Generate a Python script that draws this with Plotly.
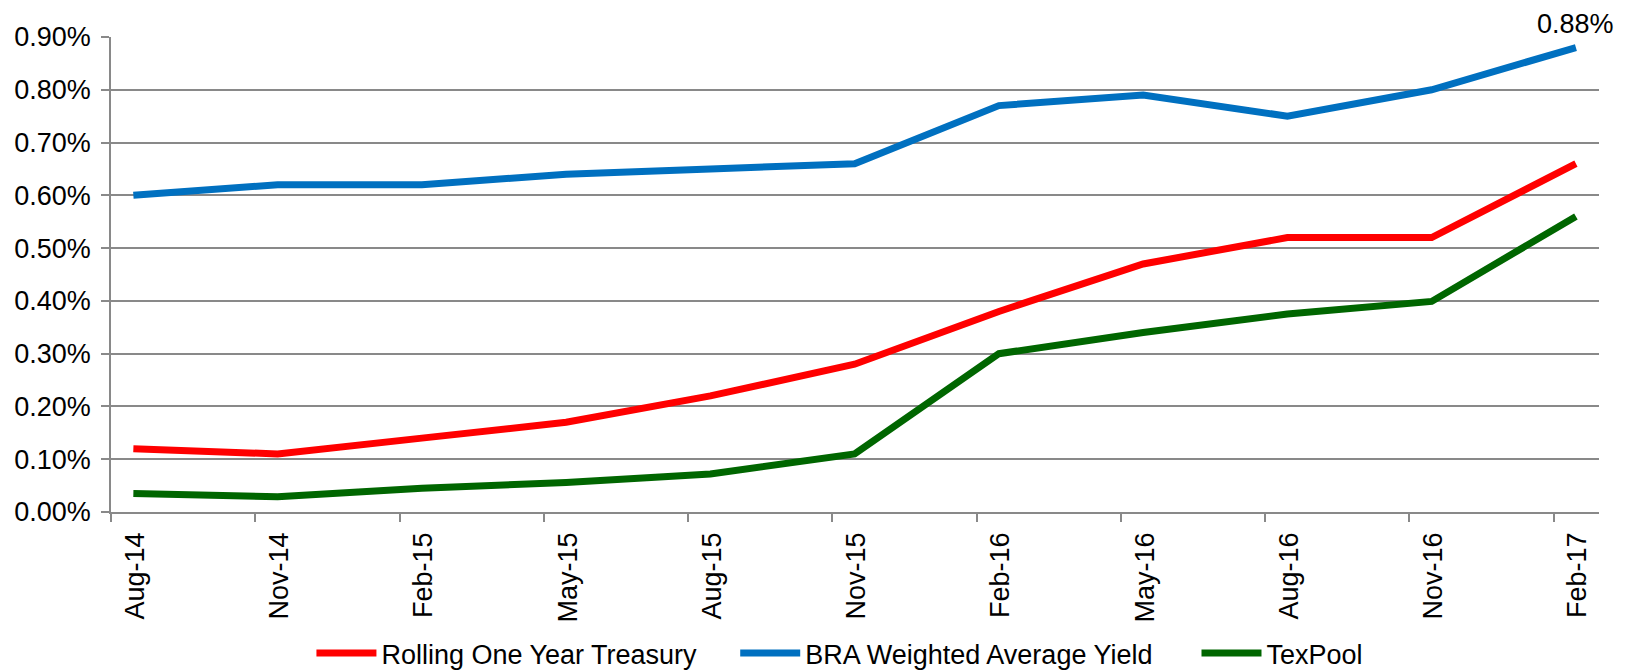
import plotly.graph_objects as go

labels = ["Aug-14", "Nov-14", "Feb-15", "May-15", "Aug-15", "Nov-15",
          "Feb-16", "May-16", "Aug-16", "Nov-16", "Feb-17"]
rolling_treasury = [0.12, 0.11, 0.14, 0.17, 0.22, 0.28, 0.38, 0.47, 0.52, 0.52, 0.66]
bra_yield = [0.60, 0.62, 0.62, 0.64, 0.65, 0.66, 0.77, 0.79, 0.75, 0.80, 0.88]
texpool = [0.035, 0.029, 0.045, 0.056, 0.072, 0.11, 0.30, 0.34, 0.375, 0.399, 0.56]
y_ticks = [0.0, 0.1, 0.2, 0.3, 0.4, 0.5, 0.6, 0.7, 0.8, 0.9]

idx = list(range(len(labels)))
tick_off = 0.155
FONT = "Liberation Sans, Arial, sans-serif"
FS = 27
GRID = "#898989"

fig = go.Figure()
series = [
    ("Rolling One Year Treasury", rolling_treasury, "#FF0000", "legend", 0.1347),
    ("BRA Weighted Average Yield", bra_yield, "#0070C0", "legend2", 0.4195),
    ("TexPool", texpool, "#006600", "legend3", 0.7295),
]
legend_cfg = {}
for name, vals, col, lg, lx in series:
    fig.add_trace(go.Scatter(x=idx, y=vals, name=name, mode="lines", legend=lg,
                             line=dict(color=col, width=7), cliponaxis=False))
    legend_cfg[lg] = dict(orientation="h", x=lx, xanchor="left", y=-0.298, yanchor="middle",
                          font=dict(family=FONT, size=FS, color="#000000"),
                          itemwidth=60, bgcolor="rgba(0,0,0,0)")

fig.add_annotation(x=idx[-1], y=bra_yield[-1], text=f"{bra_yield[-1]:.2f}%",
                   showarrow=False, yshift=24, xanchor="center", yanchor="middle",
                   borderpad=0,
                   font=dict(family=FONT, size=FS, color="#000000"))

fig.update_layout(
    width=1623, height=662,
    margin=dict(l=103, r=32, t=29, b=158, autoexpand=False),
    paper_bgcolor="white", plot_bgcolor="white",
    font=dict(family=FONT, size=FS, color="#000000"),
    showlegend=True,
    **legend_cfg,
    xaxis=dict(range=[-tick_off, idx[-1] + 0.16],
               tickmode="array", tickvals=[i - tick_off for i in idx], ticktext=labels,
               ticklabelshift=24, tickangle=-90, ticklabelstandoff=0,
               ticks="outside", ticklen=8, tickcolor=GRID, tickwidth=1.5,
               showline=True, linecolor=GRID, linewidth=1.5,
               showgrid=False, zeroline=False),
    yaxis=dict(range=[0, 0.9], tickmode="array", tickvals=y_ticks,
               ticktext=[f"{v:.2f}%" for v in y_ticks], ticklabelstandoff=5,
               ticks="outside", ticklen=8, tickcolor=GRID, tickwidth=1.5,
               showline=True, linecolor=GRID, linewidth=1.5,
               showgrid=True, gridcolor=GRID, gridwidth=1.5, zeroline=False),
)

fig.write_html("out.html")
